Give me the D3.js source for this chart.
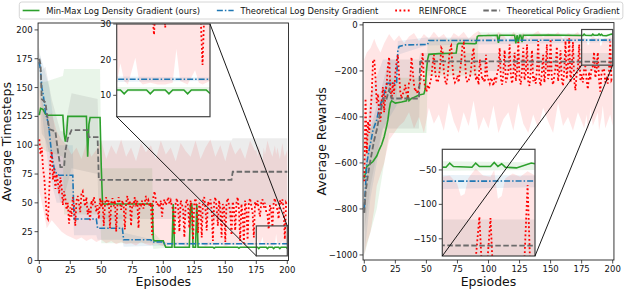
<!DOCTYPE html>
<html><head><meta charset="utf-8">
<script src="https://cdn.jsdelivr.net/npm/d3@7"></script>
<style>
body{margin:0;background:#fff}
svg{font-family:"DejaVu Sans",sans-serif}
</style></head><body>
<svg id="fig" width="640" height="292"></svg>
<script>
// ---------------- data ----------------
const methods = ["Min-Max Log Density Gradient (ours)", "Theoretical Log Density Gradient", "REINFORCE", "Theoretical Policy Gradient"];
const xTicks = [0, 25, 50, 75, 100, 125, 150, 175, 200];
const tsTicks = [0, 25, 50, 75, 100, 125, 150, 175, 200];
const rwTicks = [0, -200, -400, -600, -800, -1000];
const tsInsetTicks = [10, 20, 30];
const rwInsetTicks = [-50, -100, -150];
const episodes = d3.range(0, 201);

// ---- left: average timesteps ----
const tsOursEp  = [0,1,3,5,7,19,20,21,22,23,38,39,40,41,48,49,50,51,91,92,93,100,101,102,107,108,109,121,122,123,124,126,127,128,140,141,142,160,161,162,176,177,178,183,184,185,188,189,190,193,194,195,199,200];
const tsOursVal = [126,132,131,127,126,126,110,103,110,125,125,90,118,124,124,124,80,49,49,18,17,17,14,11.5,11.5,49,11.5,11.5,49,49,11.5,11.5,49,11.5,11.5,10.6,11.5,11.5,10.6,11.5,11.5,10.4,11.5,11.5,10.4,11.5,11.5,10.4,11.5,11.5,10.4,11.5,11.5,10.5];
const tsOursBandEp = [0,5,19,20,49,50,91,92,102,200];
const tsOursLo = [100,95,90,40,40,15,15,10,11,11];
const tsOursHi = [155,155,160,166,166,80,80,25,12.5,12.3];

const tsLogEp  = [0,1,2,3,4,5,7,8,10,12,14,16,27,28,46,47,67,68,90,91,100,101,200];
const tsLogVal = [172,165,150,145,137,128,120,112,92,80,75,74,74,36,36,28,28,18,18,16,16,14.5,14.5];
const tsLogBandEp = [0,3,8,14,27,28,46,47,67,68,100,200];
const tsLogLo = [160,120,75,50,50,22,22,18,18,12,13,14];
const tsLogHi = [180,170,150,100,100,50,50,40,40,24,16,15];

const tsReinforce = [
  105,92,98,80,72,55,38,36,60,88,
  95,70,80,62,75,68,58,72,64,48,
  60,54,44,50,32,46,38,55,48,30,
  52,56,50,42,58,60,52,47,55,40,
  45,35,52,48,55,50,42,48,36,54,
  46,52,30,50,55,48,52,28,50,54,
  47,52,25,48,55,50,44,52,48,27,
  50,56,48,52,30,50,47,55,49,52,
  28,50,48,52,45,50,56,49,52,47,
  50,22,55,60,52,48,50,46,52,38,
  50,53,48,51,55,49,52,47,44,22,
  50,54,46,25,52,49,44,20,48,53,
  47,28,52,45,18,50,54,44,24,50,
  46,20,52,55,45,26,51,48,53,44,
  17,50,55,46,30,52,44,20,49,46,
  16,50,54,48,42,22,51,45,26,50,
  55,44,17,49,40,15,52,44,18,50,
  54,47,42,20,51,47,52,44,38,50,
  53,46,50,42,40,27,48,44,29,50,
  54,47,44,36,52,49,53,45,18.5,50,
  48];
const tsReinforceBandEp = [0,3,6,10,14,18,22,26,30,34,38,42,46,50,54,58,62,66,70,74,78,82,86,90,94,98,102,106,110,114,118,122,126,130,134,138,142,146,150,154,158,162,166,170,174,175,176,177,178,180,181,182,184,186,188,190,191,192,194,196,197,198,200];
const tsReinforceHi = [150,135,125,128,112,105,100,92,98,88,102,90,96,104,88,100,92,105,90,98,86,102,94,100,88,104,92,98,86,102,95,90,104,88,98,105,90,100,86,103,92,98,88,104,95,96,90,100,94,86,98,92,104,96,90,100,92,98,88,102,95,90,96];
const tsReinforceLo = [60,45,28,35,30,25,22,20,18,20,17,19,16,18,15,17,14,16,14,15,13,16,14,13,15,13,12,14,13,15,12,14,13,16,12,14,13,15,12,14,13,15,12,14,13,13,19,14,13,20.5,14,13,13.5,13,13,13.5,23,14,13,17,13.5,13,14];

const tsPolicyEp  = [0,1,2,5,6,8,13,15,17,20,21,23,26,39,40,47,48,155,156,200];
const tsPolicyVal = [175,170,140,137,128,114,112,95,81,81,95,106,113,113,107,107,70,70,77,77];
const tsPolicyBandEp = [0,2,5,10,17,20,26,47,48,155,156,200];
const tsPolicyLo = [150,110,105,85,50,55,80,75,36,36,48,48];
const tsPolicyHi = [185,165,168,140,112,112,145,140,104,104,106,106];

// ---- right: average rewards ----
const rwOursEp  = [0,2,7,10,12,14,16,18,19,20,21,22,25,30,34,35,36,38,40,44,48,49,50,51,52,60,70,74,75,76,89,90,91,92,107,108,109,121,122,123,124,125,126,127,128,150,176,177,178,183,184,185,188,189,190,191,192,195,199,200];
const rwOursVal = [-667,-616,-594,-570,-543,-520,-486,-440,-413,-370,-340,-330,-340,-335,-330,-305,-330,-320,-315,-305,-300,-280,-200,-150,-128,-125,-123,-122,-85,-80,-82,-80,-50,-47,-45,-78,-45,-45,-80,-45,-78,-45,-45,-75,-45,-44,-46,-40,-45,-46,-40,-45,-45,-39,-45,-41,-46,-47,-40,-41];
const rwOursBandEp = [0,10,20,50,51,91,92,200];
const rwOursLo = [-1000,-800,-470,-470,-220,-220,-55,-50];
const rwOursHi = [-500,-400,-230,-230,-60,-60,-32,-39];

const rwLogEp  = [0,1,2,4,5,7,10,12,14,16,18,26,27,28,33,51,52,200];
const rwLogVal = [-797,-700,-600,-540,-515,-457,-413,-360,-330,-300,-254,-254,-109,-94,-87,-85,-68,-66];
const rwLogBandEp = [0,5,15,26,27,50,200];
const rwLogLo = [-1000,-750,-450,-350,-130,-90,-75];
const rwLogHi = [-600,-300,-150,-150,-70,-55,-58];

const rwReinforce = [
  -680,-320,-560,-420,-470,-380,-300,-160,-150,-230,
  -340,-300,-390,-420,-330,-270,-380,-300,-260,-180,
  -140,-280,-320,-250,-300,-210,-160,-130,-220,-290,
  -320,-300,-290,-260,-300,-310,-250,-240,-140,-200,
  -260,-290,-280,-300,-270,-250,-200,-120,-240,-270,
  -290,-260,-280,-250,-230,-170,-130,-200,-240,-250,
  -230,-180,-100,-110,-200,-240,-260,-230,-160,-100,
  -90,-180,-230,-250,-240,-220,-250,-200,-160,-90,
  -80,-150,-230,-250,-240,-230,-190,-130,-100,-200,
  -240,-220,-260,-150,-200,-240,-230,-250,-130,-220,
  -240,-255,-230,-245,-265,-225,-250,-210,-190,-100,
  -235,-260,-205,-110,-250,-230,-200,-85,-220,-255,
  -210,-120,-245,-200,-75,-235,-260,-195,-100,-240,
  -210,-85,-250,-265,-200,-110,-245,-225,-255,-195,
  -70,-240,-265,-205,-130,-250,-195,-85,-235,-210,
  -62,-240,-260,-220,-185,-95,-245,-200,-110,-240,
  -265,-195,-70,-235,-175,-58,-250,-195,-75,-240,
  -285,-210,-185,-85,-245,-215,-250,-195,-180,-240,
  -280,-205,-240,-185,-180,-118,-230,-195,-120,-240,
  -290,-210,-195,-190,-250,-235,-255,-200,-72,-240,
  -230];
const rwReinforceBandEp = [0,2,5,8,10,13,16,20,24,28,32,36,40,44,48,52,56,60,64,68,72,76,80,84,88,92,96,100,104,108,112,116,120,124,128,132,136,140,144,148,152,156,160,164,168,172,175,177,179,180,181,182,184,186,188,189,190,191,192,194,196,198,200];
const rwReinforceHi = [-150,-120,-100,-60,-90,-120,-80,-40,-70,-45,-80,-50,-35,-70,-40,-60,-30,-55,-40,-70,-35,-50,-30,-60,-40,-25,-55,-35,-60,-30,-45,-70,-30,-50,-35,-60,-40,-25,-55,-35,-50,-30,-60,-35,-45,-30,-60,-58,-70,-88,-85,-62,-48,-58,-60,-50,-92,-88,-62,-55,-60,-52,-58];
const rwReinforceLo = [-1000,-950,-900,-800,-700,-650,-600,-500,-470,-440,-420,-380,-450,-400,-470,-360,-430,-390,-460,-340,-420,-470,-380,-440,-330,-460,-400,-450,-350,-470,-410,-380,-460,-340,-430,-470,-390,-450,-360,-420,-470,-340,-440,-400,-460,-380,-420,-450,-390,-470,-430,-360,-440,-410,-380,-460,-430,-400,-350,-450,-420,-390,-440];

const rwPolicyEp  = [0,1,3,5,8,10,12,14,16,18,19,20,21,22,44,45,46,200];
const rwPolicyVal = [-817,-730,-650,-587,-500,-457,-400,-355,-312,-320,-300,-282,-300,-320,-320,-160,-158,-160];
const rwPolicyBandEp = [0,5,10,15,20,44,45,200];
const rwPolicyLo = [-900,-700,-560,-450,-450,-450,-200,-200];
const rwPolicyHi = [-700,-450,-350,-250,-150,-150,-122,-122];

// ---------------- drawing ----------------
const svg = d3.select('#fig');
const styles = [
  {color: '#2ca02c', dash: null, width: 1.6, fill: '#2ca02c', op: 0.1},
  {color: '#1f77b4', dash: '6,2,1.5,2', width: 1.6, fill: '#1f77b4', op: 0.1},
  {color: '#ff0000', dash: '1.8,2.4', width: 1.8, fill: '#ff0000', op: 0.1},
  {color: '#6b6b6b', dash: '5.5,2.5', width: 1.8, fill: '#808080', op: 0.15}
];
let clipCount = 0;

function drawContent(g, x, y, box, series) {
  const id = 'clip' + (clipCount++);
  g.append('clipPath').attr('id', id).append('rect')
    .attr('x', box[0]).attr('y', box[1]).attr('width', box[2] - box[0]).attr('height', box[3] - box[1]);
  const c = g.append('g').attr('clip-path', 'url(#' + id + ')');
  series.forEach((s, i) => {
    const pts = s.bandEp.map((e, k) => [e, s.lo[k], s.hi[k]]);
    c.append('path').datum(pts)
      .attr('d', d3.area().x(d => x(d[0])).y0(d => y(d[1])).y1(d => y(d[2])))
      .attr('fill', styles[i].fill).attr('fill-opacity', styles[i].op);
  });
  series.forEach((s, i) => {
    const pts = s.ep.map((e, k) => [e, s.val[k]]);
    c.append('path').datum(pts)
      .attr('d', d3.line().x(d => x(d[0])).y(d => y(d[1])))
      .attr('fill', 'none').attr('stroke', styles[i].color)
      .attr('stroke-width', styles[i].width)
      .attr('stroke-dasharray', styles[i].dash);
  });
}

function fmt(v) { return v < 0 ? '\u2212' + Math.abs(v) : String(v); }

function yAxisTicks(g, y, xEdge, ticks) {
  ticks.forEach(t => {
    g.append('line').attr('x1', xEdge - 3.5).attr('x2', xEdge).attr('y1', y(t)).attr('y2', y(t))
      .attr('stroke', '#222').attr('stroke-width', 0.8);
    g.append('text').attr('x', xEdge - 5.5).attr('y', y(t)).attr('dominant-baseline', 'central')
      .attr('text-anchor', 'end').attr('font-size', 8.5).attr('fill', '#111').text(fmt(t));
  });
}

function drawPanel(p) {
  const g = svg.append('g');
  const x = d3.scaleLinear().domain([0, 200]).range(p.xRange);
  const y = d3.scaleLinear().domain(p.yDomain).range(p.yRange);
  const box = [x(-1), p.yRange[1], x(201), p.yRange[0]];
  drawContent(g, x, y, box, p.series);

  // x ticks
  xTicks.forEach(t => {
    g.append('line').attr('x1', x(t)).attr('x2', x(t)).attr('y1', box[3]).attr('y2', box[3] + 3.5)
      .attr('stroke', '#222').attr('stroke-width', 0.8);
    g.append('text').attr('x', x(t)).attr('y', box[3] + 12.3).attr('text-anchor', 'middle')
      .attr('font-size', 8.5).attr('fill', '#111').text(t);
  });
  yAxisTicks(g, y, box[0], p.yTicks);

  g.append('rect').attr('x', box[0]).attr('y', box[1]).attr('width', box[2] - box[0]).attr('height', box[3] - box[1])
    .attr('fill', 'none').attr('stroke', '#222').attr('stroke-width', 0.9);

  g.append('text').attr('x', (x(0) + x(200)) / 2).attr('y', 286).attr('text-anchor', 'middle')
    .attr('font-size', 12.5).attr('fill', '#111').text(p.xLabel);
  g.append('text').attr('transform', `translate(${p.yLabelX},${(box[1] + box[3]) / 2}) rotate(-90)`)
    .attr('text-anchor', 'middle').attr('font-size', 12.5).attr('fill', '#111').text(p.yLabel);

  // zoom region marker
  const r = [x(175), y(p.zoomY[1]), x(200), y(p.zoomY[0])];
  g.append('rect').attr('x', r[0]).attr('y', r[1]).attr('width', r[2] - r[0]).attr('height', r[3] - r[1])
    .attr('fill', 'none').attr('stroke', '#444').attr('stroke-width', 1.2);

  // inset
  const ib = p.insetBox;
  const xi = d3.scaleLinear().domain([175, 200]).range([ib[0], ib[2]]);
  const yi = d3.scaleLinear().domain(p.zoomY).range([ib[3], ib[1]]);
  g.append('rect').attr('x', ib[0]).attr('y', ib[1]).attr('width', ib[2] - ib[0]).attr('height', ib[3] - ib[1])
    .attr('fill', '#fff');
  drawContent(g, xi, yi, ib, p.series);
  yAxisTicks(g, yi, ib[0], p.insetTicks);
  g.append('rect').attr('x', ib[0]).attr('y', ib[1]).attr('width', ib[2] - ib[0]).attr('height', ib[3] - ib[1])
    .attr('fill', 'none').attr('stroke', '#444').attr('stroke-width', 1.2);

  // connector lines
  const corners = {
    bl: [[ib[0], ib[3]], [r[0], r[3]]],
    br: [[ib[2], ib[3]], [r[2], r[3]]],
    tr: [[ib[2], ib[1]], [r[2], r[1]]]
  };
  p.connect.forEach(k => {
    const c = corners[k];
    g.append('line').attr('x1', c[0][0]).attr('y1', c[0][1]).attr('x2', c[1][0]).attr('y2', c[1][1])
      .attr('stroke', '#000').attr('stroke-width', 0.9);
  });
}

function mk(ep, val, bandEp, lo, hi) { return {ep, val, bandEp, lo, hi}; }

drawPanel({
  xRange: [39.3, 287.3], yDomain: [0, 206], yRange: [260.5, 23],
  yTicks: tsTicks, xLabel: 'Episodes', yLabel: 'Average Timesteps', yLabelX: 11,
  zoomY: [4, 30], insetBox: [116.7, 24, 210, 116.7], insetTicks: tsInsetTicks, connect: ['bl', 'tr'],
  series: [
    mk(tsOursEp, tsOursVal, tsOursBandEp, tsOursLo, tsOursHi),
    mk(tsLogEp, tsLogVal, tsLogBandEp, tsLogLo, tsLogHi),
    mk(episodes, tsReinforce, tsReinforceBandEp, tsReinforceLo, tsReinforceHi),
    mk(tsPolicyEp, tsPolicyVal, tsPolicyBandEp, tsPolicyLo, tsPolicyHi)
  ]
});

drawPanel({
  xRange: [364.3, 612.7], yDomain: [-1022, 10], yRange: [260, 22.6],
  yTicks: rwTicks, xLabel: 'Epsiodes', yLabel: 'Average Rewards', yLabelX: 326,
  zoomY: [-175, -20], insetBox: [442.3, 149.3, 535, 256], insetTicks: rwInsetTicks, connect: ['bl', 'br'],
  series: [
    mk(rwOursEp, rwOursVal, rwOursBandEp, rwOursLo, rwOursHi),
    mk(rwLogEp, rwLogVal, rwLogBandEp, rwLogLo, rwLogHi),
    mk(episodes, rwReinforce, rwReinforceBandEp, rwReinforceLo, rwReinforceHi),
    mk(rwPolicyEp, rwPolicyVal, rwPolicyBandEp, rwPolicyLo, rwPolicyHi)
  ]
});

// legend
const fs = 8.4;
const leg = svg.append('g');
const legBox = leg.append('rect').attr('x', 19.3).attr('y', 2).attr('height', 17).attr('rx', 2.5)
  .attr('fill', '#fff').attr('fill-opacity', 0.8).attr('stroke', '#cccccc').attr('stroke-width', 0.8);
let cx = 19.3 + 0.4 * fs;
methods.forEach((m, i) => {
  leg.append('line').attr('x1', cx).attr('x2', cx + 2 * fs).attr('y1', 10.5).attr('y2', 10.5)
    .attr('stroke', styles[i].color).attr('stroke-width', styles[i].width)
    .attr('stroke-dasharray', styles[i].dash);
  const t = leg.append('text').attr('x', cx + 2.8 * fs).attr('y', 10.5).attr('dominant-baseline', 'central')
    .attr('font-size', fs).attr('fill', '#111').text(m);
  cx += 2.8 * fs + t.node().getComputedTextLength() + 2 * fs;
});
legBox.attr('width', cx - 2 * fs + 0.4 * fs - 19.3);
</script>
</body></html>
